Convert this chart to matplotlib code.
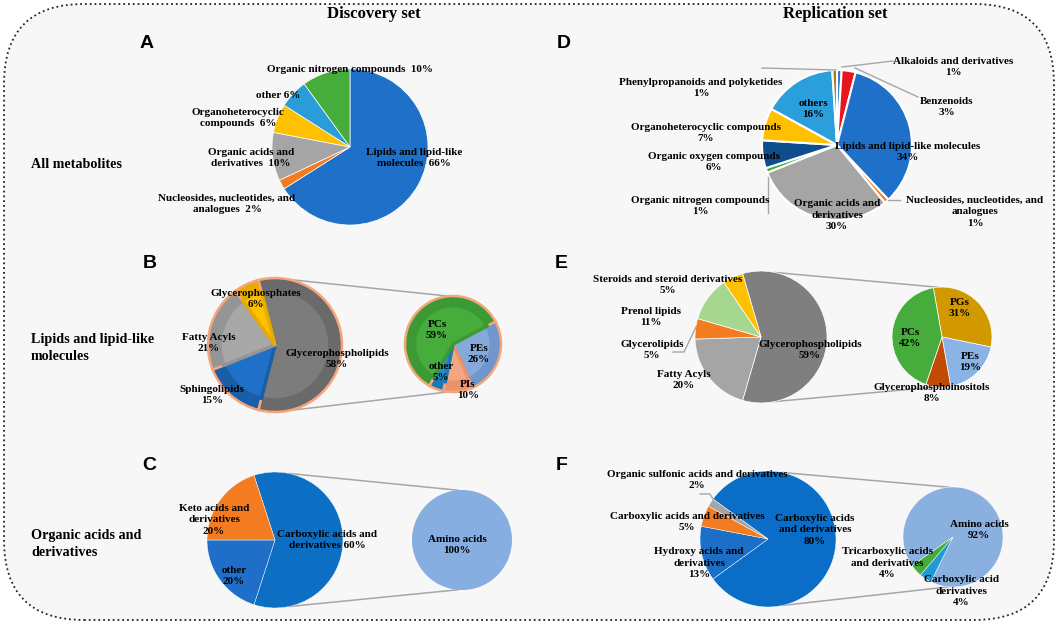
import numpy as np
import matplotlib
matplotlib.use('Agg')
import matplotlib.pyplot as plt
from matplotlib.patches import FancyBboxPatch

W, H = 1059, 624

# ---- data (percentages, clockwise order of the slices) ----
a_names = ['Lipids and lipid-like\nmolecules', 'Nucleosides, nucleotides, and\nanalogues',
           'Organic acids and\nderivatives', 'Organoheterocyclic\ncompounds', 'other',
           'Organic nitrogen compounds']
a_vals = [66, 2, 10, 6, 6, 10]

d_names = ['Alkaloids and derivatives', 'Benzenoids', 'Lipids and lipid-like molecules',
           'Nucleosides, nucleotides, and\nanalogues', 'Organic acids and\nderivatives',
           'Organic nitrogen compounds', 'Organic oxygen compounds',
           'Organoheterocyclic compounds', 'others', 'Phenylpropanoids and polyketides']
d_vals = [1, 3, 34, 1, 30, 1, 6, 7, 16, 1]

b_names = ['Glycerophospholipids', 'Sphingolipids', 'Fatty Acyls', 'Glycerophosphates']
b_vals = [58, 15, 21, 6]
b_sub_names = ['PEs', 'PIs', 'other', 'PCs']
b_sub_vals = [26, 10, 5, 59]

e_names = ['Glycerophospholipids', 'Fatty Acyls', 'Glycerolipids', 'Prenol lipids',
           'Steroids and steroid derivatives']
e_vals = [59, 20, 5, 11, 5]
e_sub_names = ['PGs', 'PEs', 'Glycerophosphoinositols', 'PCs']
e_sub_vals = [31, 19, 8, 42]

c_names = ['Carboxylic acids and\nderivatives', 'other', 'Keto acids and\nderivatives']
c_vals = [60, 20, 20]
c_sub_names = ['Amino acids']
c_sub_vals = [100]

f_names = ['Carboxylic acids\nand derivatives', 'Hydroxy acids and\nderivatives',
           'Carboxylic acids and derivatives', 'Organic sulfonic acids and derivatives']
f_vals = [80, 13, 5, 2]
f_sub_names = ['Amino acids', 'Carboxylic acid\nderivatives', 'Tricarboxylic acids\nand derivatives']
f_sub_vals = [92, 4, 4]

row_titles = ['All metabolites', 'Lipids and lipid-like\nmolecules', 'Organic acids and\nderivatives']
col_titles = ['Discovery set', 'Replication set']

# ---- colours ----
a_cols = ['#1f70c8', '#f47c20', '#a5a5a5', '#ffc000', '#2a9dd8', '#46ad3c']
d_cols = ['#2a78c8', '#e8161b', '#1f70c8', '#f47c20', '#a5a5a5', '#46ad3c',
          '#0e4d8e', '#ffc000', '#2a9fdc', '#a87a1c']
b_cols = ['#7c7c7c', '#1f70c8', '#a8a8a8', '#ffc000']
b_dark = ['#6a6a6a', '#1a5ea8', '#959595', '#e6ad00']
b_sub_cols = ['#86a9dc', '#f4a582', '#1f8fd0', '#46ad3c']
b_sub_dark = ['#7096cc', '#e8936c', '#1a7ab5', '#3b9a33']
e_cols = ['#7f7f7f', '#a5a5a5', '#f47c20', '#a6d78e', '#ffc000']
e_sub_cols = ['#d29800', '#8ab4e6', '#c14b05', '#46ad3c']
c_cols = ['#0d6fc4', '#1f6fc8', '#f47c20']
c_sub_cols = ['#86aee0']
f_cols = ['#0a6ec8', '#1c6fc8', '#f47c20', '#a5a5a5']
f_sub_cols = ['#8ab0e0', '#1f9ad6', '#46ad3c']

serif = 'Liberation Serif'
LINE = '#a6a6a6'

fig = plt.figure(figsize=(W / 100, H / 100), dpi=100)
ax = fig.add_axes([0, 0, 1, 1])

# rounded, dotted frame
box = FancyBboxPatch((4, 4), W - 9, H - 8, boxstyle='round,pad=0,rounding_size=80',
                     fc='#f7f7f7', ec='#222222', lw=1.3, ls=':', zorder=0)
ax.add_patch(box)


def pie(vals, cols, cx, cy, r, start=90, edges='white', lw=0.5):
    wedges, _ = ax.pie(vals, colors=cols, radius=r, center=(cx, H - cy), startangle=start,
                       counterclock=False, wedgeprops=dict(linewidth=lw))
    if isinstance(edges, str):
        edges = [edges] * len(wedges)
    for w, e in zip(wedges, edges):
        w.set_edgecolor(e)
    return wedges


def labels(names, vals, pos, seps, size=8):
    for n, v, (x, y), s in zip(names, vals, pos, seps):
        ax.text(x, H - y, f'{n}{s}{v}%', ha='center', va='center', fontsize=size,
                fontweight='bold', family=serif, linespacing=1.4, zorder=5)


def connect(c1, r1, c2, r2):
    for sg in (1, -1):
        a1, a2 = np.deg2rad(78 * sg), np.deg2rad(95 * sg)
        ax.plot([c1[0] + r1 * np.cos(a1), c2[0] + r2 * np.cos(a2)],
                [H - c1[1] + r1 * np.sin(a1), H - c2[1] + r2 * np.sin(a2)],
                color=LINE, lw=1.1, zorder=0.5)


def leader(pts):
    xs, ys = zip(*pts)
    ax.plot(xs, [H - y for y in ys], color=LINE, lw=1, zorder=4)


def split_start(vals):
    # first slice centred on 3 o'clock, as in a pie-of-pie
    return 180 * vals[0] / sum(vals)


# ---- A ----
pie(a_vals, a_cols, 350, 147, 78)
labels(a_names, a_vals,
       [(414, 158), (227, 204), (251, 158), (238, 118), (278, 96), (350, 69)],
       ['  ', '  ', '  ', '  ', ' ', '  '])

# ---- D ----
pie(d_vals, d_cols, 837, 145, 75, lw=1.5)
labels(d_names, d_vals,
       [(953, 67), (947, 107), (908, 152), (975, 212), (837, 215), (700, 206),
        (714, 162), (706, 133), (813, 109), (701, 88)], ['\n'] * 10)
leader([(836, 70), (762, 68)])
leader([(842, 67), (893, 61)])
leader([(855, 68), (918, 97)])
leader([(888, 200), (900, 200)])
leader([(768, 177), (768, 213)])

# ---- B ----
bc, br = (275, 345), 67
bs, bsr = (453, 344), 48
connect(bc, br, bs, bsr)
pie(b_vals, b_dark, *bc, br, split_start(b_vals), edges='#f4a57a', lw=1.8)
pie(b_vals, b_cols, *bc, br * 0.82, split_start(b_vals), edges=b_dark, lw=2.5)
pie(b_sub_vals, b_sub_dark, *bs, bsr, 28, edges='#f4a57a', lw=1.8)
pie(b_sub_vals, b_sub_cols, *bs, bsr * 0.8, 28, edges=b_sub_dark, lw=2.5)
labels(b_names, b_vals, [(337, 359), (212, 395), (209, 343), (256, 299)], ['\n'] * 4)
labels(b_sub_names, b_sub_vals, [(479, 354), (468, 390), (441, 372), (437, 330)], ['\n'] * 4)

# ---- E ----
ec_, er = (761, 337), 66
es, esr = (942, 337), 50
connect(ec_, er, es, esr)
pie(e_vals, e_cols, *ec_, er, split_start(e_vals))
pie(e_sub_vals, e_sub_cols, *es, esr, 100)
labels(e_names, e_vals, [(810, 350), (684, 380), (652, 350), (651, 317), (668, 285)], ['\n'] * 5)
labels(e_sub_names, e_sub_vals, [(960, 308), (970, 362), (932, 393), (910, 338)], ['\n'] * 4)
leader([(696, 327), (684, 352), (673, 352)])

# ---- C ----
cc, cr = (275, 540), 68
cs, csr = (462, 540), 50
connect(cc, cr, cs, csr)
pie(c_vals, c_cols, *cc, cr, split_start(c_vals), lw=0.3)
pie(c_sub_vals, c_sub_cols, *cs, csr, 90, lw=0)
labels(c_names, c_vals, [(327, 540), (234, 576), (214, 520)], [' ', '\n', '\n'])
labels(c_sub_names, c_sub_vals, [(457, 545)], ['\n'])

# ---- F ----
fc_, fr = (768, 539), 68
fs, fsr = (953, 537), 50
connect(fc_, fr, fs, fsr)
pie(f_vals, f_cols, *fc_, fr, split_start(f_vals), lw=0.3)
pie(f_sub_vals, f_sub_cols, *fs, fsr, 215, lw=0.3)
labels(f_names, f_vals, [(815, 530), (699, 563), (687, 522), (697, 480)], ['\n'] * 4)
labels(f_sub_names, f_sub_vals, [(979, 530), (961, 591), (887, 563)], ['\n'] * 3)
leader([(713, 499), (710, 494), (700, 494)])

# ---- titles ----
for t, x in zip(col_titles, [374, 835]):
    ax.text(x, H - 14, t, ha='center', va='center', fontsize=12, fontweight='bold', family=serif)
for t, y in zip(row_titles, [165, 348, 544]):
    ax.text(31, H - y, t, ha='left', va='center', fontsize=10.2, fontweight='bold', family=serif,
            linespacing=1.35)
for t, (x, y) in zip('ABCDEF', [(140, 43), (143, 263), (142, 465), (557, 43), (555, 263), (556, 465)]):
    ax.text(x, H - y, t, ha='left', va='center', fontsize=14, fontweight='bold',
            family='Liberation Sans')

ax.set_xlim(0, W)
ax.set_ylim(0, H)
ax.set_aspect('equal')
ax.axis('off')
fig.savefig('out.png', dpi=100, facecolor='white')
